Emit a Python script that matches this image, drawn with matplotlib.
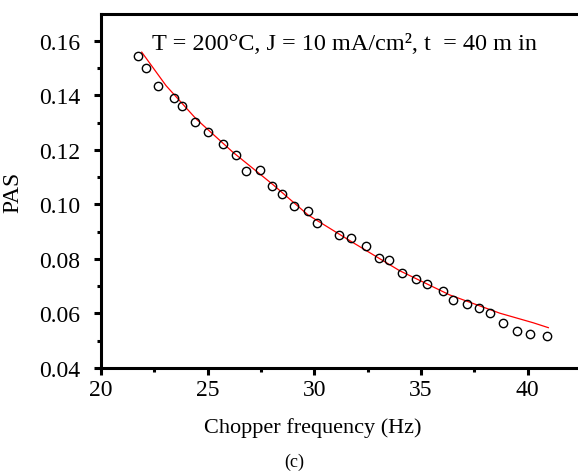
import matplotlib
matplotlib.use('Agg')
import matplotlib.pyplot as plt
from matplotlib.ticker import MultipleLocator

plt.rcParams['font.family'] = ['Liberation Serif', 'DejaVu Serif']

# measured points (open circles)
freq = [21.72, 22.11, 22.69, 23.43, 23.80, 24.41, 25.00, 25.74, 26.31, 26.82,
        27.45, 28.01, 28.50, 29.04, 29.70, 30.14, 31.14, 31.72, 32.44, 33.02,
        33.50, 34.13, 34.78, 35.29, 36.04, 36.51, 37.14, 37.71, 38.23, 38.83,
        39.50, 40.11, 40.90]
pas = [0.1546, 0.1500, 0.1436, 0.1392, 0.1360, 0.1304, 0.1267, 0.1222, 0.1182, 0.1124,
       0.1128, 0.1069, 0.1039, 0.0995, 0.0977, 0.0931, 0.0888, 0.0876, 0.0847, 0.0805,
       0.0797, 0.0749, 0.0727, 0.0708, 0.0684, 0.0648, 0.0635, 0.0619, 0.0601, 0.0564,
       0.0535, 0.0524, 0.0518]

# fitted curve (red)
fit_f = [21.91, 23.05, 24.46, 26.18, 28.06, 29.70, 31.69, 34.00, 36.35, 38.70, 40.26, 40.97]
fit_v = [0.1559, 0.1436, 0.1314, 0.1192, 0.1073, 0.0962, 0.0866, 0.0757, 0.0668, 0.0601, 0.0566, 0.0548]

fig = plt.figure(figsize=(5.78, 4.77), dpi=100)
ax = fig.add_axes([101/578, 1 - 369/477, 1 - 101/578, (369 - 15)/477])

ax.plot(fit_f, fit_v, color='red', lw=0.9)
ax.plot(freq, pas, 'o', mfc='none', mec='black', ms=6, mew=1.0)

ax.set_xlim(20, 42.36)
ax.set_ylim(0.04, 0.1699)
ax.xaxis.set_major_locator(MultipleLocator(5))
ax.xaxis.set_minor_locator(MultipleLocator(2.5))
ax.yaxis.set_major_locator(MultipleLocator(0.02))
ax.yaxis.set_minor_locator(MultipleLocator(0.01))
ax.yaxis.set_major_formatter(plt.FormatStrFormatter('%.2f'))

for s in ['left', 'bottom', 'top']:
    ax.spines[s].set_linewidth(2.2)
ax.spines['right'].set_visible(False)
ax.tick_params(which='major', direction='out', length=5, width=2.2, labelsize=17)
ax.tick_params(which='minor', direction='out', length=3, width=2.2)
ax.tick_params(axis='y', which='major', pad=10)
ax.tick_params(axis='x', which='major', pad=3)
ax.tick_params(top=False, right=False, which='both')

ax.set_xlabel('Chopper frequency (Hz)', fontsize=16)
ax.xaxis.set_label_coords(0.443, -0.138)
ax.set_ylabel('PAS', fontsize=17)
ax.yaxis.set_label_coords(-0.1635, 0.5)

fig.text(152/578, 1 - 44/477, 'T = 200°C, J = 10 mA/cm², t  = 40 m in',
         fontsize=17.5, va='center', ha='left')
fig.text(294.5/578, 1 - 462.5/477, '(c)', fontsize=13, va='center', ha='center')

fig.savefig('out.png', dpi=100)
